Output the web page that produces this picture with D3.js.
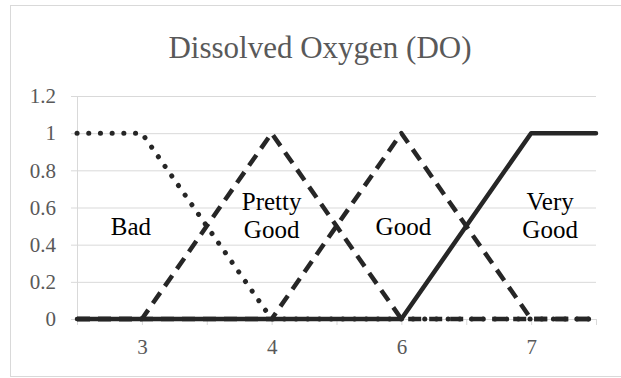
<!DOCTYPE html>
<html>
<head>
<meta charset="utf-8">
<script src="https://cdn.jsdelivr.net/npm/d3@7"></script>
<style>
    body { margin: 0; background: #fff; }
    svg { display: block; }
    text { font-family: "Liberation Serif", "Times New Roman", serif; }
</style>
</head>
<body>
<svg id="chart" width="621" height="378"></svg>
<script>
// categories (only every other one carries a visible label)
var categories = ['2.5', '3', '3.5', '4', '5', '6', '6.5', '7', '7.5'];
var shownLabels = ['3', '4', '6', '7'];
var yTicks = [0, 0.2, 0.4, 0.6, 0.8, 1, 1.2];

// membership values
var bad        = [1, 1, 0.5, 0, 0, 0, 0, 0, 0];
var prettyGood = [0, 0, 0.5, 1, 0.5, 0, 0, 0, 0];
var good       = [0, 0, 0, 0, 0.5, 1, 0.5, 0, 0];
var veryGood   = [0, 0, 0, 0, 0, 0, 0.5, 1, 1];

var series = [
    { name: 'Bad',         values: bad,        dash: '0.1,11.6', cap: 'round', width: 5 },
    { name: 'Pretty Good', values: prettyGood, dash: '13,8',     cap: 'butt',  width: 4.5 },
    { name: 'Good',        values: good,       dash: '13,8',     cap: 'butt',  width: 4.5 },
    { name: 'Very Good',   values: veryGood,   dash: null,       cap: 'round', width: 4.5 }
];

var annotations = [
    { lines: ['Bad'],            cat: '3', dx: -11, y: 0.45 },
    { lines: ['Pretty', 'Good'], cat: '4', dx: 0,   y: 0.51 },
    { lines: ['Good'],           cat: '6', dx: 2,   y: 0.45 },
    { lines: ['Very', 'Good'],   cat: '7', dx: 19,  y: 0.51 }
];

var svg = d3.select('#chart');
var grey = '#595959';
var lineColor = '#262626';
var serif = '"Liberation Serif", "Times New Roman", serif';

var x = d3.scalePoint().domain(categories).range([77, 596]);
var y = d3.scaleLinear().domain([0, 1.2]).range([319, 96]);

// chart border
svg.append('rect')
    .attr('x', 10.5).attr('y', 5.5)
    .attr('width', 640).attr('height', 371)
    .attr('fill', 'none')
    .attr('stroke', '#d9d9d9')
;

// title
svg.append('text')
    .attr('x', 320).attr('y', 58)
    .attr('text-anchor', 'middle')
    .attr('fill', grey)
    .attr('font-family', serif)
    .style('font-size', '31px')
    .text('Dissolved Oxygen (DO)')
;

// y axis with gridlines
var yAxis = svg.append('g')
    .attr('transform', 'translate(77,0)')
    .call(d3.axisLeft(y).tickValues(yTicks).tickSize(6).tickFormat(d3.format('~g')))
    .attr('font-family', serif)
    .attr('font-size', 21)
;
yAxis.select('.domain').attr('stroke', '#d9d9d9');
yAxis.selectAll('.tick line').attr('stroke', '#d9d9d9');
yAxis.selectAll('.tick text')
    .attr('fill', grey)
    .attr('x', -21)
;
yAxis.selectAll('.tick').append('line')
    .attr('x1', 0).attr('x2', 519)
    .attr('stroke', '#d9d9d9')
;

// x axis
var xAxis = svg.append('g')
    .attr('transform', 'translate(0,319)')
    .call(d3.axisBottom(x).tickSize(6).tickSizeOuter(0)
        .tickFormat(d => shownLabels.indexOf(d) >= 0 ? d : ''))
    .attr('font-family', serif)
    .attr('font-size', 21)
;
xAxis.select('.domain').attr('stroke', '#d9d9d9');
xAxis.selectAll('.tick line').attr('stroke', '#d9d9d9');
xAxis.selectAll('.tick text')
    .attr('fill', grey)
    .attr('dy', '1.25em')
;

// lines
var line = d3.line()
    .x((d, i) => x(categories[i]))
    .y(d => y(d))
;

svg.append('g').selectAll('path')
    .data(series)
    .enter().append('path')
    .attr('d', s => line(s.values))
    .attr('fill', 'none')
    .attr('stroke', lineColor)
    .attr('stroke-width', s => s.width)
    .attr('stroke-linejoin', 'round')
    .attr('stroke-linecap', s => s.cap)
    .attr('stroke-dasharray', s => s.dash)
;

// category labels
svg.append('g').selectAll('text')
    .data(annotations)
    .enter().append('text')
    .attr('text-anchor', 'middle')
    .attr('fill', '#000')
    .attr('font-family', serif)
    .style('font-size', '25px')
    .attr('transform', a => `translate(${ x(a.cat) + a.dx }, ${ y(a.y) })`)
    .each(function (a) {
        var t = d3.select(this);
        a.lines.forEach(function (l, i) {
            t.append('tspan')
                .attr('x', 0)
                .attr('y', a.lines.length > 1 ? (i === 0 ? -14 : 14) : 0)
                .text(l);
        });
    })
;
</script>
</body>
</html>
